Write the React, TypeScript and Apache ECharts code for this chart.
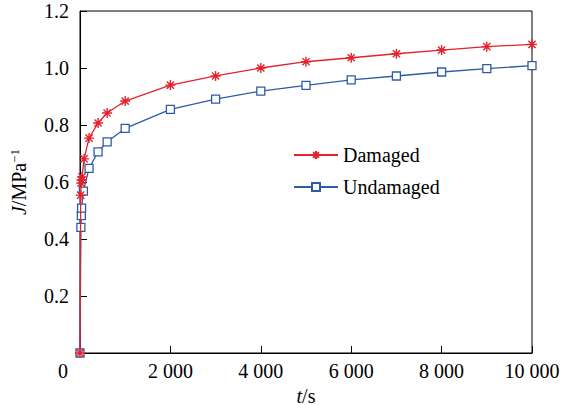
import React, { useEffect, useRef } from "react";
import * as echarts from "echarts";

const tDamaged = [0, 15, 25, 35, 45, 90, 200, 400, 600, 1000, 2000, 3000, 4000, 5000, 6000, 7000, 8000, 9000, 10000];
const jDamaged = [0, 0.554, 0.596, 0.607, 0.618, 0.681, 0.754, 0.807, 0.842, 0.884, 0.94, 0.972, 1.0, 1.022, 1.036, 1.05, 1.063, 1.075, 1.083];
const tUndamaged = [0, 20, 30, 35, 75, 200, 400, 600, 1000, 2000, 3000, 4000, 5000, 6000, 7000, 8000, 9000, 10000];
const jUndamaged = [0, 0.441, 0.482, 0.508, 0.568, 0.648, 0.706, 0.741, 0.788, 0.855, 0.891, 0.919, 0.939, 0.958, 0.972, 0.986, 0.998, 1.008];
const seriesNames = ["Damaged", "Undamaged"];

const FONT = "'Liberation Serif', 'Times New Roman', serif";
const FS = 20;
const RED = "#e3222b";
const BLUE = "#2f5ba6";
const ASTERISK = "path://M0,-5L0,5M-5,0L5,0M-3.6,-3.6L3.6,3.6M-3.6,3.6L3.6,-3.6";

function fmtThousands(v: number): string {
  const s = String(Math.round(v));
  return s.replace(/\B(?=(\d{3})+(?!\d))/g, " ");
}

export default function App() {
  const ref = useRef<HTMLDivElement>(null);
  useEffect(() => {
    if (!ref.current) return;
    const chart = echarts.init(ref.current, null, { renderer: "svg" });
    const pairs = (ts: number[], js: number[]) => ts.map((t, i) => [t, js[i]]);
    chart.setOption({
      animation: false,
      backgroundColor: "#fff",
      textStyle: { fontFamily: FONT },
      grid: {
        left: 80,
        right: 36,
        top: 11,
        bottom: 52,
        containLabel: false,
        outerBoundsMode: "none",
        show: true,
        borderColor: "#000",
        borderWidth: 1,
      },
      legend: {
        orient: "vertical",
        left: 293,
        top: 145,
        padding: 0,
        itemWidth: 44,
        itemHeight: 10,
        itemGap: 12,
        textStyle: { fontFamily: FONT, fontSize: FS, color: "#000", lineHeight: 20 },
        data: seriesNames,
      },
      xAxis: {
        type: "value",
        min: 0,
        max: 10000,
        interval: 2000,
        name: "{i|t}/s",
        nameLocation: "middle",
        nameGap: 29,
        nameTextStyle: {
          fontFamily: FONT,
          fontSize: FS,
          color: "#000",
          lineHeight: 20,
          rich: { i: { fontStyle: "italic", fontFamily: FONT, fontSize: FS, color: "#000", lineHeight: 20 } },
        },
        axisLine: { lineStyle: { color: "#000", width: 1 } },
        axisTick: { inside: true, length: 7, lineStyle: { color: "#000" } },
        splitLine: { show: false },
        axisLabel: {
          margin: 8,
          fontFamily: FONT,
          fontSize: FS,
          color: "#000",
          formatter: (v: number) => (v === 0 ? "{o|0}" : fmtThousands(v)),
          rich: { o: { fontFamily: FONT, fontSize: FS, color: "#000", padding: [0, 34, 0, 0] } },
        },
      },
      yAxis: {
        type: "value",
        min: 0,
        max: 1.2,
        interval: 0.2,
        name: "{i|J}/MPa{s|−1}",
        nameLocation: "middle",
        nameGap: 50,
        nameRotate: 90,
        nameTextStyle: {
          fontFamily: FONT,
          fontSize: FS,
          color: "#000",
          lineHeight: 22,
          rich: {
            i: { fontStyle: "italic", fontFamily: FONT, fontSize: FS, color: "#000", lineHeight: 22 },
            s: { fontFamily: FONT, fontSize: 13, color: "#000", verticalAlign: "top", lineHeight: 22 },
          },
        },
        axisLine: { show: true, lineStyle: { color: "#000", width: 1 } },
        axisTick: { show: true, inside: true, length: 7, lineStyle: { color: "#000" } },
        splitLine: { show: false },
        axisLabel: {
          margin: 11,
          padding: [5, 0, 0, 0],
          fontFamily: FONT,
          fontSize: FS,
          color: "#000",
          formatter: (v: number) => (v === 0 ? "" : v.toFixed(1)),
        },
      },
      series: [
        {
          name: seriesNames[0],
          type: "line",
          z: 4,
          data: pairs(tDamaged, jDamaged),
          symbol: ASTERISK,
          symbolSize: 10,
          showAllSymbol: true,
          lineStyle: { color: RED, width: 1.3 },
          itemStyle: { color: RED, borderColor: RED, borderWidth: 1.4 },
        },
        {
          name: seriesNames[1],
          type: "line",
          z: 3,
          data: pairs(tUndamaged, jUndamaged),
          symbol: "rect",
          symbolSize: 8,
          showAllSymbol: true,
          lineStyle: { color: BLUE, width: 1.3 },
          itemStyle: { color: "#fff", borderColor: BLUE, borderWidth: 1.3 },
        },
      ],
    });
    return () => chart.dispose();
  }, []);
  return <div ref={ref} style={{ position: "absolute", left: 0, top: 0, width: 568, height: 405 }} />;
}
